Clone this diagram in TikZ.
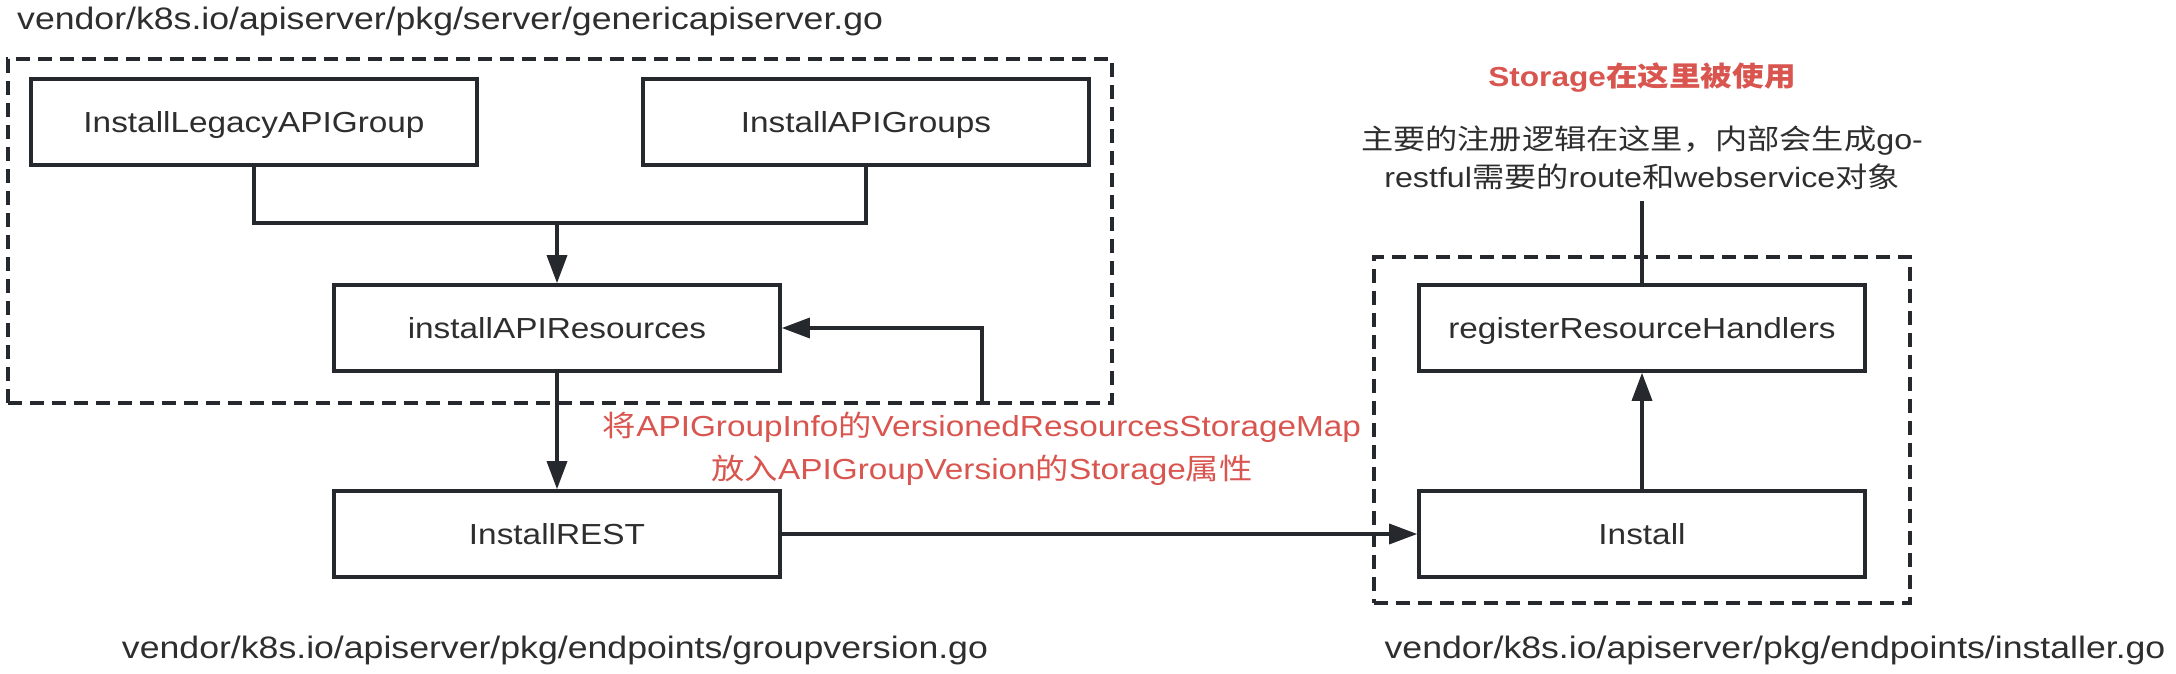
\documentclass[tikz,border=0pt]{standalone}
\usepackage{fontspec}
\setmainfont{Liberation Sans}[FakeStretch=1.15]
\newfontfamily\zhfont{Noto Sans CJK SC}[FakeStretch=1.15]
\newcommand{\zh}[1]{{\zhfont #1}}
\usepackage{xcolor}
\usepackage{tikz}
\usetikzlibrary{arrows.meta}
\definecolor{inkdark}{HTML}{25282C}
\definecolor{textdark}{HTML}{2E2E2E}
\definecolor{notered}{HTML}{D9554F}

\begin{document}
\begin{tikzpicture}[
            x=1pt, y=-1pt,
            func/.style={rectangle, draw=inkdark, line width=3.6pt, fill=white, minimum width=446pt, minimum height=86pt, inner sep=0pt, text=textdark, font=\fontsize{29}{34}\selectfont, text height=21pt, text depth=0pt},
            grpbox/.style={rectangle, draw=inkdark, line width=3.6pt, dash pattern=on 14pt off 8pt, inner sep=0pt},
            filelabel/.style={text=textdark, inner sep=0pt, font=\fontsize{31}{36}\selectfont},
            redlabel/.style={text=notered, inner sep=0pt, font=\fontsize{29}{43}\selectfont},
            notetext/.style={text=textdark, inner sep=11pt, font=\fontsize{28}{38}\selectfont},
            link/.style={draw=inkdark, line width=3.4pt},
            flow/.style={link, -{Triangle[length=28pt, width=20pt]}},
            auto
        ]
            \useasboundingbox (0,0) rectangle (2176,674);
            % genericapiserver.go
            \node[filelabel, anchor=base west] (srvfile) at (17,30) {vendor/k8s.io/apiserver/pkg/server/genericapiserver.go};
            \node[grpbox, minimum width=1104pt, minimum height=344pt] (srvgrp) at (560,231) {};
            \node[func] (legacy) at (254,122) {InstallLegacyAPIGroup};
            \node[func] (groups) at (866,122) {InstallAPIGroups};
            \node[func] (res) at (557,328) {installAPIResources};
            % groupversion.go
            \node[func] (rest) at (557,534) {InstallREST};
            \node[filelabel, anchor=base] (gvfile) at (555,658) {vendor/k8s.io/apiserver/pkg/endpoints/groupversion.go};
            \node[redlabel, align=center] (mapnote) at (982,449) {\zh{将}APIGroupInfo\zh{的}VersionedResourcesStorageMap\\\zh{放入}APIGroupVersion\zh{的}Storage\zh{属性}};
            % installer.go
            \node[grpbox, minimum width=536pt, minimum height=346pt] (epgrp) at (1642,430) {};
            \node[func] (install) at (1642,534) {Install};
            \node[func] (reg) at (1642,328) {registerResourceHandlers};
            \node[filelabel, anchor=base] (instfile) at (1775,658) {vendor/k8s.io/apiserver/pkg/endpoints/installer.go};
            \node[redlabel, font=\fontsize{27.5}{33}\selectfont\bfseries, anchor=base] (usenote) at (1642,87) {Storage\zh{在这里被使用}};
            \node[notetext, align=center] (regnote) at (1642,158) {\zh{主要的注册逻辑在这里，内部会生成}go-\\restful\zh{需要的}route\zh{和}webservice\zh{对象}};
            \coordinate (merge) at (557,223);
            \coordinate (mapin) at (982,403);
            % Edges
            \draw[link] (legacy.south) |- (merge) -| (groups.south);
            \draw[flow] (merge) -- (res.north);
            \draw[flow] (mapin) |- (res.east);
            \draw[flow] (res.south) -- (rest.north);
            \draw[flow] (rest.east) -- (install.west);
            \draw[flow] (install.north) -- (reg.south);
            \draw[link] (reg.north) -- (regnote.south);
        \end{tikzpicture}
\end{document}
